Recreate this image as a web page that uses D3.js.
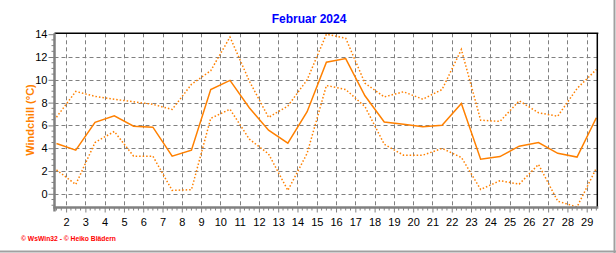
<!DOCTYPE html>
<html><head><meta charset="utf-8">
<script src="https://cdn.jsdelivr.net/npm/d3@7/dist/d3.min.js"></script>
<style>body{margin:0;background:#fff;} svg{display:block;}</style>
</head><body><svg id="c" width="616" height="253"></svg>
<script>
const title = "Februar 2024";
const yLabel = "Windchill  (°C)";
const footer = "© WsWin32 - © Heiko Blädern";
const days = [1,2,3,4,5,6,7,8,9,10,11,12,13,14,15,16,17,18,19,20,21,22,23,24,25,26,27,28,29];
const avgWindchill = [4.42,3.83,6.27,6.85,5.93,5.85,3.30,3.83,9.15,9.95,7.55,5.58,4.45,7.2,11.55,11.86,8.6,6.3,6.1,5.88,6.02,7.92,3.04,3.27,4.18,4.5,3.55,3.22,6.67];
const maxWindchill = [6.72,8.98,8.55,8.3,8.07,7.85,7.4,9.6,10.8,13.75,9.9,6.7,7.7,10.0,14.0,13.65,9.7,8.5,8.95,8.3,9.15,12.66,6.46,6.35,8.16,7.11,6.81,9.24,10.9];
const minWindchill = [2.1,0.82,4.5,5.47,3.3,3.3,0.3,0.36,6.62,7.42,4.8,3.5,0.3,3.55,9.5,9.15,7.65,4.35,3.39,3.39,3.98,3.19,0.38,1.15,0.85,2.58,-0.65,-1.15,2.25];
const yTickValues = [0,2,4,6,8,10,12,14];
const xTickValues = [2,3,4,5,6,7,8,9,10,11,12,13,14,15,16,17,18,19,20,21,22,23,24,25,26,27,28,29];

const svg = d3.select("#c");
const L = 54.5, R = 597.3, T = 33.3, B = 207.5;
const x = d3.scaleLinear().domain([1.398, 29.55]).range([L, R]);
const y = d3.scaleLinear().domain([-1.2, 14.08]).range([B, T]);
const orange = "#ff8000", gray = "#808080";
const font = "'Liberation Sans', Arial, sans-serif";

// frame shadow
svg.append("line").attr("x1",614.5).attr("x2",614.5).attr("y1",0).attr("y2",253).attr("stroke","#a0a0a0").attr("stroke-width",2);
svg.append("line").attr("x1",0).attr("x2",616).attr("y1",251.5).attr("y2",251.5).attr("stroke","#a0a0a0").attr("stroke-width",2);

// grid
const g = svg.append("g");
g.selectAll(".hg").data(yTickValues.filter(v => v < 14)).join("line")
  .attr("x1", L).attr("x2", R).attr("y1", d => Math.round(y(d))+0.5).attr("y2", d => Math.round(y(d))+0.5)
  .attr("stroke", gray).attr("stroke-dasharray", "4,3").attr("stroke-width", 1);
g.selectAll(".vg").data(xTickValues).join("line")
  .attr("y1", T).attr("y2", B).attr("x1", d => Math.round(x(d))+0.5).attr("x2", d => Math.round(x(d))+0.5)
  .attr("stroke", gray).attr("stroke-dasharray", "4,3").attr("stroke-width", 1);

// clip
svg.append("clipPath").attr("id","pc").append("rect").attr("x",L).attr("y",T).attr("width",R-L).attr("height",B-T);
const line = d3.line().x((d,i) => x(days[i] + 0.5)).y(d => y(d));
const lg = svg.append("g").attr("clip-path","url(#pc)");
lg.append("path").attr("d", line(maxWindchill)).attr("fill","none").attr("stroke",orange).attr("stroke-width",1.5).attr("stroke-dasharray","1.5,2");
lg.append("path").attr("d", line(minWindchill)).attr("fill","none").attr("stroke",orange).attr("stroke-width",1.5).attr("stroke-dasharray","1.5,2");
lg.append("path").attr("d", line(avgWindchill)).attr("fill","none").attr("stroke",orange).attr("stroke-width",1.5);

// borders top/right
svg.append("line").attr("x1",L).attr("x2",R+1).attr("y1",T).attr("y2",T).attr("stroke","#000").attr("stroke-width",1.5);
svg.append("line").attr("x1",R).attr("x2",R).attr("y1",T).attr("y2",B).attr("stroke","#000").attr("stroke-width",1.5);

// y axis
const ya = svg.append("g").attr("transform",`translate(${L},0)`)
  .call(d3.axisLeft(y).tickValues(yTickValues).tickSize(6).tickPadding(1).tickFormat(d3.format("d")));
ya.select(".domain").remove();
ya.selectAll(".tick line").attr("stroke", gray);
ya.selectAll("text").attr("font-family", font).attr("font-size", 11).attr("fill","#000");
const yMinor = d3.range(-1, 14.01, 0.5).filter(v => !yTickValues.includes(v));
svg.append("g").selectAll("line").data(yMinor).join("line")
  .attr("x1", L-3).attr("x2", L).attr("y1", d => y(d)).attr("y2", d => y(d)).attr("stroke", gray);

// x axis
const xa = svg.append("g").attr("transform",`translate(0,${B})`)
  .call(d3.axisBottom(x).tickValues(xTickValues).tickSize(5).tickPadding(6).tickFormat(d3.format("d")));
xa.select(".domain").remove();
xa.selectAll(".tick line").attr("stroke", gray);
xa.selectAll("text").attr("font-family", font).attr("font-size", 11).attr("fill","#000");
const xMinor = d3.range(1.5, 29.55, 0.25).filter(v => !Number.isInteger(v) || v < 2);
svg.append("g").selectAll("line").data(xMinor).join("line")
  .attr("y1", B).attr("y2", B+3).attr("x1", d => x(d)).attr("x2", d => x(d)).attr("stroke", gray);

// axis lines
svg.append("line").attr("x1",L).attr("x2",L).attr("y1",T).attr("y2",B+4).attr("stroke",gray).attr("stroke-width",2.5);
svg.append("line").attr("x1",L-1.2).attr("x2",R+1).attr("y1",B).attr("y2",B).attr("stroke",gray).attr("stroke-width",2.5);

// title
svg.append("text").attr("x",309).attr("y",23).attr("text-anchor","middle")
  .attr("font-family",font).attr("font-size",12).attr("font-weight","bold").attr("fill","#0000ff").text(title);
// y label
svg.append("text").attr("transform","translate(34,120) rotate(-90)").attr("text-anchor","middle")
  .attr("font-family",font).attr("font-size",11).attr("font-weight","bold").attr("fill",orange).text(yLabel);
// footer
svg.append("text").attr("x",21).attr("y",241)
  .attr("font-family",font).attr("font-size",6.5).attr("font-weight","bold").attr("fill","#ff0000")
  .attr("textLength",95).attr("lengthAdjust","spacingAndGlyphs").text(footer);
</script></body></html>
